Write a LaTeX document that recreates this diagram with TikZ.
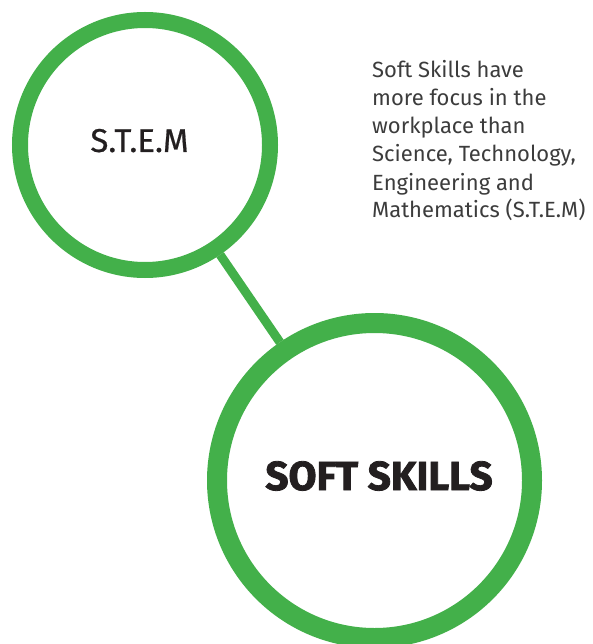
\documentclass[tikz,border=0pt]{standalone}
\usepackage{fontspec}
\setmainfont{Fira Sans}
\newfontfamily\bodyfont{Fira Sans}
\newfontfamily\midfont{Fira Sans}[FakeBold=0.6]
\newfontfamily\heavyfont{Fira Sans}[UprightFont=* Bold, FakeBold=2]
\definecolor{ringgreen}{RGB}{67,176,74}
\definecolor{inkdark}{RGB}{35,31,32}
\definecolor{inkgray}{RGB}{60,60,60}
\begin{document}
\begin{tikzpicture}[x=1pt,y=-1pt,
  ring/.style={circle, draw=ringgreen, fill=white, inner sep=0pt},
  link/.style={draw=ringgreen, line width=9pt},
  title/.style={anchor=base, inner sep=0pt, text=inkdark}]
  \useasboundingbox (0,0) rectangle (593,644);
  % the two rings and the bar joining them
  \node[ring, line width=16pt, minimum size=250pt] (stem) at (145,145) {};
  \node[ring, line width=20pt, minimum size=315pt] (soft) at (374.5,480.5) {};
  \draw[link] (stem) -- (soft);
  % ring titles
  \node[title, font=\midfont\fontsize{33}{36}\selectfont] (stemtext) at (139.5,152) {S.T.E.M};
  \node[title, font=\heavyfont\fontsize{40.5}{44}\selectfont] (softtext) at (379,490) {SOFT SKILLS};
  % side note, placed by the baseline of its last line
  \node[anchor=base west, inner sep=0pt, align=left, text=inkgray,
        font=\bodyfont\fontsize{22}{28}\selectfont] (note) at (372,218)
    {Soft Skills have\\more focus in the\\workplace than\\Science, Technology,\\Engineering and\\Mathematics (S.T.E.M)};
\end{tikzpicture}
\end{document}
